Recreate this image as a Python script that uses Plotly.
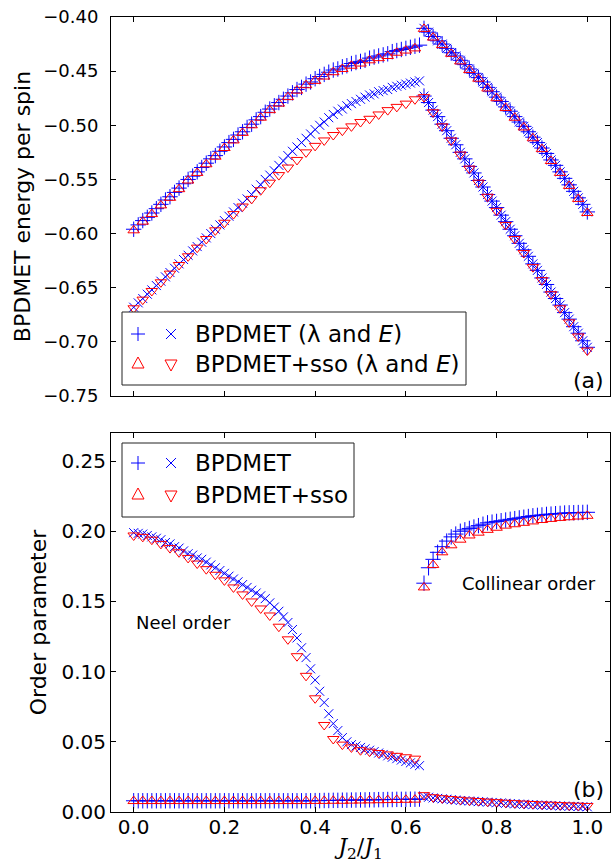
import numpy as np
import plotly.graph_objects as go
from plotly.subplots import make_subplots

# ---------------- data ----------------
J_left = np.round(np.arange(0, 64) * 0.01, 2)          # 0.00 .. 0.63
J_right = np.round(0.64 + np.arange(0, 37) * 0.01, 2)  # 0.64 .. 1.00
J_left_sso = np.round(np.arange(0, 32) * 0.02, 2)      # 0.00 .. 0.62
J_right_sso = np.round(0.64 + np.arange(0, 19) * 0.02, 2)  # 0.64 .. 1.00

# top panel: BPDMET lambda (upper branch) and E (lower branch)
lam_left = [-0.596, -0.592, -0.588, -0.585, -0.581, -0.577, -0.573, -0.569, -0.566, -0.562,
            -0.558, -0.554, -0.550, -0.547, -0.543, -0.539, -0.535, -0.531, -0.528, -0.524,
            -0.520, -0.516, -0.513, -0.509, -0.506, -0.502, -0.499, -0.495, -0.492, -0.488,
            -0.485, -0.482, -0.479, -0.476, -0.473, -0.470, -0.467, -0.465, -0.462, -0.460,
            -0.457, -0.455, -0.453, -0.451, -0.449, -0.448, -0.446, -0.445, -0.443, -0.442,
            -0.441, -0.440, -0.438, -0.437, -0.436, -0.435, -0.434, -0.432, -0.431, -0.430,
            -0.429, -0.428, -0.427, -0.426]
E_left = [-0.668, -0.664, -0.660, -0.656, -0.652, -0.648, -0.644, -0.640, -0.636, -0.632,
          -0.628, -0.624, -0.620, -0.616, -0.612, -0.608, -0.604, -0.600, -0.596, -0.592,
          -0.588, -0.584, -0.580, -0.576, -0.572, -0.568, -0.564, -0.559, -0.555, -0.550,
          -0.546, -0.542, -0.537, -0.533, -0.528, -0.524, -0.520, -0.516, -0.512, -0.508,
          -0.504, -0.500, -0.497, -0.493, -0.490, -0.487, -0.485, -0.482, -0.480, -0.478,
          -0.476, -0.474, -0.472, -0.471, -0.469, -0.468, -0.467, -0.465, -0.464, -0.463,
          -0.462, -0.461, -0.460, -0.459]
upper_right = [-0.4105, -0.414, -0.418, -0.422, -0.425, -0.429, -0.433, -0.436, -0.440, -0.444,
               -0.448, -0.452, -0.456, -0.460, -0.465, -0.469, -0.474, -0.478, -0.483, -0.487,
               -0.492, -0.497, -0.501, -0.506, -0.511, -0.516, -0.521, -0.526, -0.532, -0.537,
               -0.543, -0.549, -0.555, -0.561, -0.567, -0.573, -0.580]
lower_right = [-0.473, -0.479, -0.486, -0.492, -0.499, -0.505, -0.512, -0.518, -0.525, -0.531,
               -0.538, -0.544, -0.551, -0.557, -0.564, -0.570, -0.576, -0.583, -0.589, -0.596,
               -0.602, -0.609, -0.615, -0.621, -0.628, -0.634, -0.641, -0.647, -0.654, -0.660,
               -0.666, -0.673, -0.679, -0.686, -0.692, -0.699, -0.705]

# top panel: BPDMET+sso
lam_left_sso = [-0.597, -0.589, -0.582, -0.574, -0.567, -0.559, -0.551, -0.544, -0.536, -0.529,
                -0.521, -0.514, -0.507, -0.500, -0.493, -0.486, -0.480, -0.474, -0.468, -0.463,
                -0.459, -0.455, -0.451, -0.448, -0.445, -0.443, -0.440, -0.438, -0.436, -0.433,
                -0.431, -0.429]
E_left_sso = [-0.669, -0.661, -0.653, -0.645, -0.637, -0.629, -0.621, -0.613, -0.605, -0.597,
              -0.590, -0.582, -0.575, -0.568, -0.560, -0.553, -0.546, -0.539, -0.532, -0.525,
              -0.519, -0.514, -0.509, -0.505, -0.501, -0.497, -0.494, -0.490, -0.486, -0.483,
              -0.480, -0.476]
upper_right_sso = [-0.411, -0.419, -0.426, -0.434, -0.441, -0.449, -0.457, -0.466, -0.475, -0.484,
                   -0.493, -0.502, -0.512, -0.522, -0.533, -0.544, -0.556, -0.568, -0.581]
lower_right_sso = [-0.474, -0.488, -0.501, -0.514, -0.527, -0.540, -0.553, -0.566, -0.579, -0.592,
                   -0.605, -0.618, -0.631, -0.643, -0.656, -0.669, -0.682, -0.695, -0.708]

# bottom panel: order parameters
collinear_left = [0.0080] * 40 + [0.0081, 0.0081, 0.0082, 0.0082, 0.0083, 0.0083, 0.0084, 0.0084,
                                  0.0085, 0.0085, 0.0086, 0.0086, 0.0087, 0.0087, 0.0088, 0.0088,
                                  0.0089, 0.0089, 0.0090, 0.0090, 0.0090, 0.0091, 0.0091, 0.0092]
neel_left = [0.199, 0.1985, 0.198, 0.197, 0.196, 0.195, 0.194, 0.192, 0.191, 0.189,
             0.188, 0.186, 0.184, 0.183, 0.181, 0.180, 0.178, 0.176, 0.174, 0.172,
             0.170, 0.168, 0.166, 0.164, 0.162, 0.160, 0.158, 0.156, 0.154, 0.152,
             0.149, 0.146, 0.143, 0.139, 0.135, 0.130, 0.124, 0.117, 0.110, 0.102,
             0.094, 0.086, 0.078, 0.070, 0.063, 0.058, 0.053, 0.050, 0.048, 0.047,
             0.046, 0.045, 0.044, 0.043, 0.042, 0.041, 0.040, 0.039, 0.038, 0.037,
             0.036, 0.035, 0.034, 0.033]
collinear_right = [0.163, 0.174, 0.180, 0.185, 0.189, 0.193, 0.196, 0.198, 0.200, 0.201,
                   0.202, 0.203, 0.204, 0.205, 0.206, 0.2065, 0.207, 0.2075, 0.208, 0.2085,
                   0.209, 0.2095, 0.210, 0.2105, 0.211, 0.2113, 0.2116, 0.212, 0.2122, 0.2125,
                   0.2127, 0.213, 0.2131, 0.2132, 0.2133, 0.2134, 0.2135]
neel_right = [0.0110, 0.0105, 0.0100, 0.0097, 0.0094, 0.0091, 0.0088, 0.0085, 0.0082, 0.0080,
              0.0078, 0.0076, 0.0074, 0.0072, 0.0070, 0.0068, 0.0066, 0.0064, 0.0062, 0.0060,
              0.0058, 0.0056, 0.0055, 0.0053, 0.0052, 0.0050, 0.0049, 0.0047, 0.0046, 0.0045,
              0.0043, 0.0042, 0.0041, 0.0040, 0.0039, 0.0038, 0.0037]
collinear_left_sso = [0.0078] * 20 + [0.0079, 0.0079, 0.0080, 0.0080, 0.0081, 0.0082, 0.0083,
                                      0.0084, 0.0085, 0.0086, 0.0087, 0.0088]
neel_left_sso = [0.197, 0.196, 0.194, 0.191, 0.188, 0.185, 0.181, 0.177, 0.173, 0.169,
                 0.165, 0.160, 0.155, 0.150, 0.145, 0.140, 0.132, 0.123, 0.111, 0.097,
                 0.081, 0.062, 0.052, 0.048, 0.046, 0.044, 0.043, 0.042, 0.041, 0.040,
                 0.039, 0.038]
collinear_right_sso = [0.160, 0.176, 0.185, 0.190, 0.194, 0.197, 0.199, 0.201, 0.2025, 0.204,
                       0.205, 0.206, 0.207, 0.208, 0.2088, 0.2095, 0.210, 0.2105, 0.211]
neel_right_sso = [0.0120, 0.0105, 0.0098, 0.0092, 0.0087, 0.0082, 0.0078, 0.0074, 0.0070, 0.0066,
                  0.0063, 0.0060, 0.0057, 0.0054, 0.0052, 0.0049, 0.0047, 0.0045, 0.0043]

x_ticks = [0.0, 0.2, 0.4, 0.6, 0.8, 1.0]
x_ticktext = ["0.0", "0.2", "0.4", "0.6", "0.8", "1.0"]
top_yticks = [-0.75, -0.70, -0.65, -0.60, -0.55, -0.50, -0.45, -0.40]
top_yticktext = ["\u22120.75", "\u22120.70", "\u22120.65", "\u22120.60",
                 "\u22120.55", "\u22120.50", "\u22120.45", "\u22120.40"]
bot_yticks = [0.00, 0.05, 0.10, 0.15, 0.20, 0.25]
bot_yticktext = ["0.00", "0.05", "0.10", "0.15", "0.20", "0.25"]

BLUE = "#0000ff"
RED = "#ff0000"
FONT = "DejaVu Sans"

# ---------------- layout geometry (pixels) ----------------
W, H = 611, 863
ML, MR, MT, MB = 111, 1, 17, 51
PW, PH = W - ML - MR, H - MT - MB
top_y0, top_y1 = 17, 396      # pixel rows of top panel
bot_y0, bot_y1 = 433, 812


def px(x):
    return (x - ML) / PW


def py(y):
    return (H - MB - y) / PH


fig = make_subplots(rows=2, cols=1)


def add(x, y, symbol, color, size, row):
    fig.add_trace(go.Scatter(
        x=x, y=y, mode="markers", showlegend=False, hoverinfo="skip",
        marker=dict(symbol=symbol, size=size, color=color,
                    line=dict(color=color, width=1))), row=row, col=1)


# top panel
add(J_left, lam_left, "cross-thin-open", BLUE, 11, 1)
add(J_left, E_left, "x-thin-open", BLUE, 9, 1)
add(J_right, upper_right, "cross-thin-open", BLUE, 11, 1)
add(J_right, upper_right, "x-thin-open", BLUE, 9, 1)
add(J_right, lower_right, "x-thin-open", BLUE, 9, 1)
add(J_right, lower_right, "cross-thin-open", BLUE, 11, 1)
add(J_left_sso, lam_left_sso, "triangle-up-open", RED, 10, 1)
add(J_left_sso, E_left_sso, "triangle-down-open", RED, 10, 1)
add(J_right_sso, upper_right_sso, "triangle-up-open", RED, 10, 1)
add(J_right_sso, lower_right_sso, "triangle-down-open", RED, 10, 1)

# bottom panel
add(J_left, collinear_left, "cross-thin-open", BLUE, 11, 2)
add(J_left, neel_left, "x-thin-open", BLUE, 9, 2)
add(J_right, collinear_right, "cross-thin-open", BLUE, 11, 2)
add(J_right, neel_right, "x-thin-open", BLUE, 9, 2)
add(J_left_sso, collinear_left_sso, "triangle-up-open", RED, 10, 2)
add(J_left_sso, neel_left_sso, "triangle-down-open", RED, 10, 2)
add(J_right_sso, collinear_right_sso, "triangle-up-open", RED, 10, 2)
add(J_right_sso, neel_right_sso, "triangle-down-open", RED, 10, 2)

axis_common = dict(showline=True, linecolor="black", linewidth=1, mirror="ticks",
                   ticks="inside", ticklen=5, tickwidth=1, tickcolor="black",
                   showgrid=False, zeroline=False,
                   tickfont=dict(family=FONT, size=20, color="black"))

fig.update_xaxes(range=[-0.05, 1.05], tickvals=x_ticks, ticktext=x_ticktext, **axis_common)
fig.update_xaxes(showticklabels=False, row=1, col=1)
fig.update_xaxes(row=2, col=1, ticklabelstandoff=-3,
                 title=dict(text="<i>J</i><sub>2</sub>/<i>J</i><sub>1</sub>",
                            font=dict(family="DejaVu Serif", size=22, color="black"),
                            standoff=4))
fig.update_yaxes(**axis_common)
fig.update_yaxes(row=1, col=1, range=[-0.75, -0.40], tickvals=top_yticks, ticktext=top_yticktext,
                 domain=[py(top_y1), py(top_y0)], ticklabelstandoff=8,
                 tickfont=dict(family=FONT, size=18, color="black"),
                 title=dict(text="BPDMET energy per spin",
                            font=dict(family=FONT, size=22, color="black"), standoff=6))
fig.update_yaxes(row=2, col=1, range=[0, 0.27], tickvals=bot_yticks, ticktext=bot_yticktext,
                 domain=[py(bot_y1), py(bot_y0)], ticklabelstandoff=0,
                 title=dict(text="Order parameter",
                            font=dict(family=FONT, size=22, color="black"), standoff=8))

shapes = []
annotations = []


def legend_box(x0, y0, x1, y1):
    shapes.append(dict(type="rect", xref="paper", yref="paper",
                       x0=px(x0), x1=px(x1), y0=py(y1), y1=py(y0),
                       line=dict(color="#222222", width=1), fillcolor="white", layer="above"))


GLYPHS = {
    "plus": "M-7,0 L7,0 M0,-7 L0,7",
    "x": "M-5,-5 L5,5 M-5,5 L5,-5",
    "up": "M-6,-4 L6,-4 L0,7 Z",
    "down": "M-6,4 L6,4 L0,-7 Z",
}


def glyph(kind, cx, cy, color):
    shapes.append(dict(type="path", xref="paper", yref="paper",
                       xsizemode="pixel", ysizemode="pixel",
                       xanchor=px(cx), yanchor=py(cy), path=GLYPHS[kind],
                       line=dict(color=color, width=1), layer="above"))


def label(text, cx, cy, size=23):
    annotations.append(dict(text=text, xref="paper", yref="paper", x=px(cx), y=py(cy),
                            xanchor="left", yanchor="middle", showarrow=False,
                            font=dict(family=FONT, size=size, color="black")))


# top legend
legend_box(122, 312, 466, 385)
glyph("plus", 138, 334, BLUE)
glyph("x", 171, 334, BLUE)
glyph("up", 138, 364, RED)
glyph("down", 171, 364, RED)
label("BPDMET (λ and <i>E</i>)", 193, 334)
label("BPDMET+sso (λ and <i>E</i>)", 193, 364)

# bottom legend
legend_box(122, 443, 354, 517)
glyph("plus", 138, 463, BLUE)
glyph("x", 171, 463, BLUE)
glyph("up", 138, 495, RED)
glyph("down", 171, 495, RED)
label("BPDMET", 193, 463)
label("BPDMET+sso", 193, 495)

# panel labels
annotations.append(dict(text="(a)", xref="paper", yref="paper", x=px(606), y=py(380),
                        xanchor="right", yanchor="middle", showarrow=False,
                        font=dict(family=FONT, size=22, color="black")))
annotations.append(dict(text="(b)", xref="paper", yref="paper", x=px(606), y=py(789),
                        xanchor="right", yanchor="middle", showarrow=False,
                        font=dict(family=FONT, size=22, color="black")))
# phase labels (data coordinates, bottom panel)
annotations.append(dict(text="Neel order", xref="x2", yref="y2", x=0.0, y=0.135,
                        xanchor="left", yanchor="middle", showarrow=False,
                        font=dict(family=FONT, size=18, color="black")))
annotations.append(dict(text="Collinear order", xref="x2", yref="y2", x=0.72, y=0.163,
                        xanchor="left", yanchor="middle", showarrow=False,
                        font=dict(family=FONT, size=18, color="black")))

fig.update_layout(width=W, height=H, margin=dict(l=ML, r=MR, t=MT, b=MB),
                  paper_bgcolor="white", plot_bgcolor="white",
                  shapes=shapes, annotations=annotations, showlegend=False)

fig.write_html("out.html", config={"displayModeBar": False},
               post_script="document.body.style.margin='0';document.body.style.padding='0';")
